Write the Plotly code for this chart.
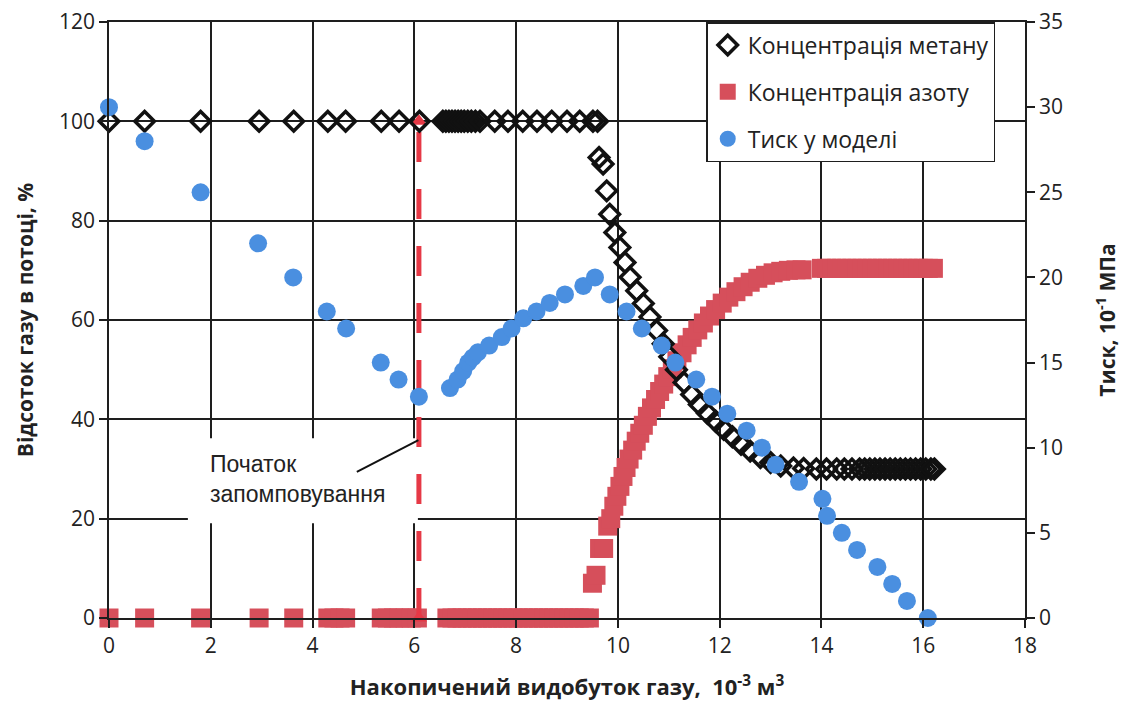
import plotly.graph_objects as go

# ---------------- data ----------------
methane_x = [0.0, 0.7, 1.8, 2.95, 3.63, 4.3, 4.65, 5.35, 5.7, 6.1,
             6.56, 6.62, 6.68, 6.74, 6.8, 6.86, 6.92, 6.98, 7.05, 7.12, 7.2, 7.29, 7.58, 7.84,
             8.13, 8.41, 8.7, 9.0, 9.25, 9.51, 9.6,
             9.63, 9.71, 9.78, 9.84, 9.94, 10.04, 10.14, 10.24, 10.37, 10.5, 10.63, 10.76, 10.89,
             11.02, 11.15, 11.3, 11.45, 11.6, 11.76, 11.92, 12.08, 12.25, 12.42, 12.6, 12.8, 13.0,
             13.2, 13.45,
             13.65, 13.9, 14.1, 14.3, 14.45, 14.6, 14.75, 14.85, 14.95, 15.05, 15.15, 15.25, 15.35,
             15.45, 15.55, 15.65, 15.75, 15.85, 15.95, 16.05, 16.15, 16.22]
methane_y = [100, 100, 100, 100, 100, 100, 100, 100, 100, 100,
             100, 100, 100, 100, 100, 100, 100, 100, 100, 100, 100, 100, 100, 100,
             100, 100, 100, 100, 100, 100, 100,
             92.7, 91.4, 86.0, 81.3, 77.6, 74.6, 71.6, 68.6, 65.9, 63.3, 60.6, 57.9, 55.2,
             52.6, 50.0, 47.4, 45.0, 43.0, 41.2, 39.6, 38.0, 36.5, 35.0, 33.6, 32.3, 31.3,
             30.6, 30.2,
             30.1, 30, 30, 30, 30, 30, 30, 30, 30, 30, 30, 30, 30,
             30, 30, 30, 30, 30, 30, 30, 30, 30]

nitrogen_x = [0.0, 0.7, 1.8, 2.95, 3.63, 4.3, 4.42, 4.54, 4.65, 5.35, 5.47, 5.59, 5.7, 5.82, 5.94, 6.06,
              6.64, 6.74, 6.84, 6.94, 7.04, 7.14, 7.24, 7.34, 7.44, 7.54, 7.64, 7.74, 7.84, 7.94,
              8.04, 8.14, 8.24, 8.34, 8.44, 8.54, 8.64, 8.74, 8.84, 8.94, 9.04, 9.14, 9.24, 9.34, 9.44,
              9.5, 9.57, 9.64, 9.72, 9.8, 9.86, 9.92, 9.98, 10.04, 10.1, 10.16, 10.22, 10.29, 10.36,
              10.43, 10.5, 10.58, 10.66, 10.74, 10.82, 10.9, 10.98, 11.07, 11.16, 11.26, 11.36, 11.46,
              11.57, 11.68, 11.8, 11.92, 12.05, 12.18, 12.32, 12.46, 12.6, 12.75, 12.9, 13.05, 13.2,
              13.35, 13.5, 13.62,
              14.0, 14.1, 14.2, 14.3, 14.4, 14.5, 14.6, 14.7, 14.8, 14.9, 15.0, 15.1, 15.2, 15.3,
              15.4, 15.5, 15.6, 15.7, 15.8, 15.9, 16.0, 16.1, 16.2]
nitrogen_y = [0, 0, 0, 0, 0, 0, 0, 0, 0, 0, 0, 0, 0, 0, 0, 0,
              0, 0, 0, 0, 0, 0, 0, 0, 0, 0, 0, 0, 0, 0,
              0, 0, 0, 0, 0, 0, 0, 0, 0, 0, 0, 0, 0, 0, 0,
              7.0, 8.6, 14.0, 14.0, 18.5, 20.0, 22.5, 24.5, 26.5, 28.5, 30.3, 32.0, 33.8, 35.6,
              37.2, 38.8, 40.6, 42.3, 44.0, 45.6, 47.1, 48.6, 50.2, 51.8, 53.4, 55.0, 56.5,
              58.0, 59.4, 60.8, 62.1, 63.4, 64.6, 65.7, 66.7, 67.6, 68.4, 69.0, 69.5, 69.8,
              70.0, 70.1, 70.1,
              70.4, 70.4, 70.4, 70.4, 70.4, 70.4, 70.4, 70.4, 70.4, 70.4, 70.4, 70.4, 70.4, 70.4,
              70.4, 70.4, 70.4, 70.4, 70.4, 70.4, 70.4, 70.4, 70.4]

pressure_x = [0.0, 0.7, 1.8, 2.93, 3.62, 4.28, 4.66, 5.34, 5.69, 6.09,
              6.7, 6.85, 6.96, 7.06, 7.15, 7.25, 7.47, 7.72, 7.91, 8.14, 8.4, 8.66, 8.96, 9.32, 9.55,
              9.84, 10.17, 10.47, 10.86, 11.13, 11.54, 11.85, 12.15, 12.53, 12.83, 13.1, 13.56,
              14.02, 14.11, 14.4, 14.7, 15.1, 15.39, 15.68, 16.09]
pressure_y = [30, 28, 25, 22, 20, 18, 17, 15, 14, 13,
              13.5, 14.0, 14.5, 15.0, 15.3, 15.6, 16.0, 16.5, 17.0, 17.6, 18.0, 18.5, 19.0, 19.5, 20.0,
              19, 18, 17, 16, 15, 14, 13, 12, 11, 10, 9, 8,
              7, 6, 5, 4, 3, 2, 1, 0]

injection_x = [6.09, 6.09]
injection_y = [0, 100]

x_ticks = [0, 2, 4, 6, 8, 10, 12, 14, 16, 18]
y_ticks = [0, 20, 40, 60, 80, 100, 120]
y2_ticks = [0, 5, 10, 15, 20, 25, 30, 35]

# ---------------- styling ----------------
FONT = "Open Sans"
GRID = "#1e1e1e"
BLUE = "#4a8fe0"
RED_SQ = "#d64f5b"
RED_LINE = "#e63946"

fig = go.Figure()

fig.add_trace(go.Scatter(
    x=nitrogen_x, y=nitrogen_y, mode="markers", name="Концентрація азоту",
    marker=dict(symbol="square", size=19, color=RED_SQ, line=dict(width=0)),
    legendgroup="n", legendrank=2, cliponaxis=False))

fig.add_trace(go.Scatter(
    x=injection_x, y=injection_y, mode="lines+markers", showlegend=False,
    line=dict(color=RED_LINE, width=5, dash="30px,27px"),
    marker=dict(symbol="triangle-up", size=14, color=RED_LINE), cliponaxis=False))

fig.add_trace(go.Scatter(
    x=methane_x, y=methane_y, mode="markers", name="Концентрація метану",
    marker=dict(symbol="diamond-open", size=15, color="#111111", line=dict(width=3.5, color="#111111")),
    legendgroup="m", legendrank=1, cliponaxis=False))

fig.add_trace(go.Scatter(
    x=pressure_x, y=pressure_y, mode="markers", name="Тиск у моделі", yaxis="y2",
    marker=dict(symbol="circle", size=18, color=BLUE, line=dict(width=0)),
    legendgroup="p", legendrank=3, cliponaxis=False))

# white box behind annotation (hides gridlines)
fig.add_shape(type="rect", xref="x", yref="y", x0=1.55, x1=6.07, y0=19.1, y1=36.2,
              fillcolor="white", line=dict(width=0), layer="between")
# connector line
fig.add_shape(type="line", xref="x", yref="y", x0=4.87, y0=29.4, x1=6.08, y1=35.8,
              line=dict(color="#111111", width=2), layer="above")
fig.add_annotation(x=1.95, y=27.9, xref="x", yref="y", xanchor="left", yanchor="middle",
                   align="left", showarrow=False,
                   text="Початок<br>запомповування",
                   font=dict(family="Liberation Sans", size=23, color="#222222"))

fig.update_layout(
    width=1124, height=709,
    margin=dict(l=109, r=99, t=22, b=91, autoexpand=False),
    paper_bgcolor="white", plot_bgcolor="white",
    font=dict(family=FONT, size=21, color="#222222"),
    showlegend=True,
    legend=dict(x=0.652, y=1.0, xanchor="left", yanchor="top",
                bgcolor="white", bordercolor=GRID, borderwidth=1.5,
                font=dict(family=FONT, size=23, color="#222222"),
                tracegroupgap=14, traceorder="grouped", itemwidth=30),
    xaxis=dict(range=[0, 18], tickvals=x_ticks, ticktext=[str(v) for v in x_ticks],
               showgrid=True, gridcolor=GRID, gridwidth=1.5,
               showline=True, linecolor=GRID, linewidth=1.5, mirror=True,
               ticks="outside", ticklen=8, tickcolor=GRID, tickwidth=1.5,
               zeroline=False, automargin=False,
               tickfont=dict(family=FONT, size=21),
               title=dict(text="<b>Накопичений видобуток газу,  10<sup>-3</sup> м<sup>3</sup></b>",
                          font=dict(family=FONT, size=22), standoff=22)),
    yaxis=dict(range=[0, 120], tickvals=y_ticks, ticktext=[str(v) for v in y_ticks],
               showgrid=True, gridcolor=GRID, gridwidth=1.5,
               showline=True, linecolor=GRID, linewidth=1.5, mirror=True,
               ticks="outside", ticklen=8, tickcolor=GRID, tickwidth=1.5,
               zeroline=False, automargin=False,
               tickfont=dict(family=FONT, size=21),
               title=dict(text="<b>Відсоток газу в потоці, %</b>",
                          font=dict(family=FONT, size=21), standoff=20)),
    yaxis2=dict(range=[0, 35], tickvals=y2_ticks, ticktext=[str(v) for v in y2_ticks],
                overlaying="y", side="right", showgrid=False,
                showline=True, linecolor=GRID, linewidth=1.5,
                ticks="outside", ticklen=8, tickcolor=GRID, tickwidth=1.5,
                zeroline=False, automargin=False,
                tickfont=dict(family=FONT, size=21),
                title=dict(text="<b>Тиск, 10<sup>-1</sup> МПа</b>",
                           font=dict(family=FONT, size=21), standoff=38)),
)

fig.write_html("out.html")
